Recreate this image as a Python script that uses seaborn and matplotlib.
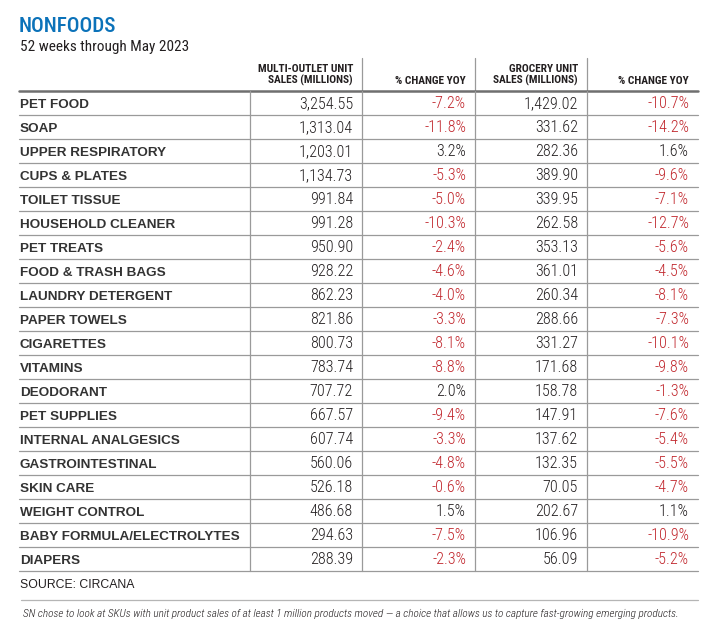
import matplotlib
matplotlib.use("Agg")
import matplotlib.pyplot as plt
import seaborn as sns

categories = ["PET FOOD", "SOAP", "UPPER RESPIRATORY", "CUPS & PLATES", "TOILET TISSUE",
              "HOUSEHOLD CLEANER", "PET TREATS", "FOOD & TRASH BAGS", "LAUNDRY DETERGENT",
              "PAPER TOWELS", "CIGARETTES", "VITAMINS", "DEODORANT", "PET SUPPLIES",
              "INTERNAL ANALGESICS", "GASTROINTESTINAL", "SKIN CARE", "WEIGHT CONTROL",
              "BABY FORMULA/ELECTROLYTES", "DIAPERS"]
multi_sales = [3254.55, 1313.04, 1203.01, 1134.73, 991.84, 991.28, 950.90, 928.22, 862.23,
               821.86, 800.73, 783.74, 707.72, 667.57, 607.74, 560.06, 526.18, 486.68,
               294.63, 288.39]
multi_chg = [-7.2, -11.8, 3.2, -5.3, -5.0, -10.3, -2.4, -4.6, -4.0, -3.3, -8.1, -8.8, 2.0,
             -9.4, -3.3, -4.8, -0.6, 1.5, -7.5, -2.3]
groc_sales = [1429.02, 331.62, 282.36, 389.90, 339.95, 262.58, 353.13, 361.01, 260.34,
              288.66, 331.27, 171.68, 158.78, 147.91, 137.62, 132.35, 70.05, 202.67,
              106.96, 56.09]
groc_chg = [-10.7, -14.2, 1.6, -9.6, -7.1, -12.7, -5.6, -4.5, -8.1, -7.3, -10.1, -9.8, -1.3,
            -7.6, -5.4, -5.5, -4.7, 1.1, -10.9, -5.2]
headers = ["MULTI-OUTLET UNIT\nSALES (MILLIONS)", "% CHANGE YOY",
           "GROCERY UNIT\nSALES (MILLIONS)", "% CHANGE YOY"]
title = "NONFOODS"
subtitle = "52 weeks through May 2023"
source = "SOURCE: CIRCANA"
footnote = ("SN chose to look at SKUs with unit product sales of at least 1 million products "
            "moved \u2014 a choice that allows us to capture fast-growing emerging products.")

sns.set_theme(style="white")
plt.rcParams["font.family"] = ["Liberation Sans", "DejaVu Sans"]
COND = ["Roboto Condensed", "DejaVu Sans"]
SANS = ["Liberation Sans", "DejaVu Sans"]

BLUE = "#0b72b9"
RED = "#c1272d"
DARK = "#231f20"
GRID = "#9a9a9a"

fig = plt.figure(figsize=(7.2, 6.31), dpi=100)
ax = fig.add_axes([0, 0, 1, 1])
ax.set_xlim(0, 720)
ax.set_ylim(631, 0)
ax.axis("off")

left, right = 19, 698
col_edges = [250, 362, 475, 587, 698]
top = 90.6
rh = 24.02
n = len(categories)
bottom = top + n * rh

ax.text(left, 32.3, title, color=BLUE, fontsize=15.2, family=COND, weight="medium",
        va="baseline", ha="left")
ax.text(left + 1, 50.7, subtitle, color=DARK, fontsize=11, family=COND, va="baseline",
        ha="left")

# header
for j, h in enumerate(headers):
    xr = col_edges[j + 1] - 9
    lines = h.split("\n")
    ys = [72, 84] if len(lines) == 2 else [84]
    for yy, ln in zip(ys, lines):
        ax.text(xr, yy, ln, ha="right", va="baseline", fontsize=8.2, family=COND,
                weight="bold", color=DARK)
for x in col_edges[1:4]:
    ax.plot([x, x], [58, top], color=GRID, lw=0.9)

ax.plot([left, right], [top, top], color="#6f6f6f", lw=1.8)

for i, cat in enumerate(categories):
    ytop = top + i * rh
    yb = ytop + 17.5
    ax.text(20, yb, cat, ha="left", va="baseline", fontsize=9.7, weight="bold",
            family=SANS, color="#333333")
    vals = [f"{multi_sales[i]:,.2f}", f"{multi_chg[i]:.1f}%",
            f"{groc_sales[i]:,.2f}", f"{groc_chg[i]:.1f}%"]
    chgs = [None, multi_chg[i], None, groc_chg[i]]
    for j, v in enumerate(vals):
        c = RED if (chgs[j] is not None and chgs[j] < 0) else DARK
        ax.text(col_edges[j + 1] - 9, yb, v, ha="right", va="baseline", fontsize=11.6,
                family=COND, weight="light", color=c)
    yl = top + (i + 1) * rh
    ax.plot([left, right], [yl, yl], color=GRID, lw=0.9)

for x in col_edges[:4]:
    ax.plot([x, x], [top, bottom], color=GRID, lw=0.9)

ax.text(20, 588, source, ha="left", va="baseline", fontsize=8.8, family=SANS, color=DARK)
ax.plot([left + 2, right], [600, 600], color="#b5b5b5", lw=0.9)
ax.text(23, 617, footnote, ha="left", va="baseline", fontsize=8.15, family=COND,
        style="italic", weight="light", color=DARK)

fig.savefig("out.png", dpi=100)
